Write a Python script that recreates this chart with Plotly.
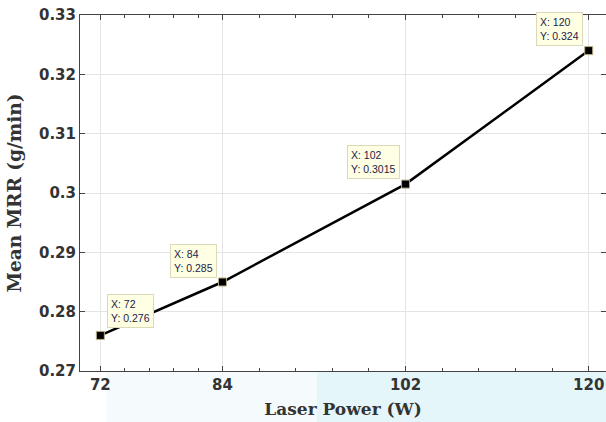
import numpy as np
import plotly.graph_objects as go

# Data
laser_power = [72, 84, 102, 120]
mean_mrr = [0.276, 0.285, 0.3015, 0.324]
mrr_labels = ["0.276", "0.285", "0.3015", "0.324"]
y_ticks = [0.27, 0.28, 0.29, 0.30, 0.31, 0.32, 0.33]
y_ticktext = ["0.27", "0.28", "0.29", "0.3", "0.31", "0.32", "0.33"]

# minor ticks: 5 subdivisions between consecutive categories
minor_vals = []
for a, b in zip(laser_power[:-1], laser_power[1:]):
    minor_vals += list(np.linspace(a, b, 6)[1:-1])

fig = go.Figure()
fig.add_trace(go.Scatter(
    x=laser_power, y=mean_mrr, mode="lines+markers",
    line=dict(color="black", width=2.5),
    marker=dict(symbol="square", size=8, color="black",
                line=dict(color="#b8ad84", width=1)),
    showlegend=False, hoverinfo="skip"))

# datatip-style annotations
offsets = [("left", 7, 7), ("right", -5, 4), ("right", -6, 5), ("right", -6, 5)]
for xv, yv, lab, (xa, xs, ys) in zip(laser_power, mean_mrr, mrr_labels, offsets):
    fig.add_annotation(
        x=xv, y=yv, text=f"X: {xv}<br>Y: {lab}", showarrow=False,
        xanchor=xa, yanchor="bottom", xshift=xs, yshift=ys, align="left",
        font=dict(family="Liberation Sans", size=10.5, color="#22224a"),
        bgcolor="#ffffe4", bordercolor="#dcd9b8", borderwidth=1, borderpad=3)

# faint watermark-like background below the axis
fig.add_shape(type="rect", xref="paper", yref="paper", x0=0.05, x1=0.45,
              y0=-0.15, y1=0, fillcolor="#f5fbfc", line_width=0, layer="below")
fig.add_shape(type="rect", xref="paper", yref="paper", x0=0.45, x1=1.0,
              y0=-0.15, y1=0, fillcolor="#e5f6fa", line_width=0, layer="below")

tickfont = dict(family="DejaVu Sans", size=15, color="#333333", weight="bold")
xtitlefont = dict(family="DejaVu Serif", size=17, color="#333333", weight="bold")
ytitlefont = dict(family="DejaVu Serif", size=18.5, color="#333333", weight="bold")

fig.update_layout(
    width=606, height=422,
    margin=dict(l=80, r=0, t=15, b=51, autoexpand=False),
    paper_bgcolor="white", plot_bgcolor="white",
    xaxis=dict(
        range=[70, 121.7], tickvals=laser_power, ticktext=[str(v) for v in laser_power],
        tickfont=tickfont, ticks="inside", ticklen=5, tickcolor="#444",
        showline=True, linecolor="#444", linewidth=1, mirror="ticks",
        showgrid=True, gridcolor="#e4e4e4", gridwidth=1, zeroline=False,
        automargin=False, ticklabeloverflow="allow",
        minor=dict(tickvals=minor_vals, ticks="inside", ticklen=3,
                   tickcolor="#444", showgrid=False),
        title=dict(text="Laser Power (W)", font=xtitlefont, standoff=10)),
    yaxis=dict(
        range=[0.27, 0.33], tickvals=y_ticks, ticktext=y_ticktext,
        tickfont=tickfont, ticks="inside", ticklen=5, tickcolor="#444",
        showline=True, linecolor="#444", linewidth=1, mirror="ticks",
        showgrid=True, gridcolor="#e4e4e4", gridwidth=1, zeroline=False,
        automargin=False, ticklabeloverflow="allow",
        title=dict(text="Mean MRR (g/min)", font=ytitlefont, standoff=12)),
)

fig.write_html("out.html", config={"displayModeBar": False},
               post_script="document.body.style.margin='0';document.body.style.overflow='hidden';")
